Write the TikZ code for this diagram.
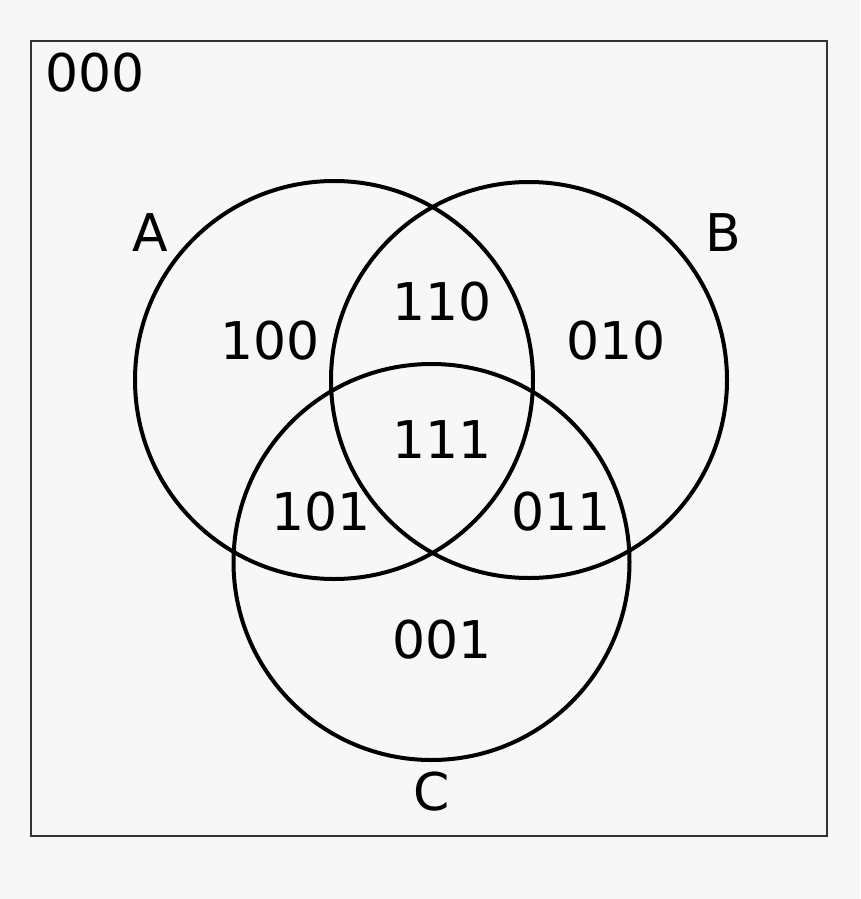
\documentclass[tikz,border=0pt]{standalone}
\usepackage{fontspec}
\setmainfont{DejaVu Sans}
\begin{document}
\begin{tikzpicture}[x=1pt,y=-1pt,
  lbl/.style={font=\fontsize{52}{56}\selectfont, inner sep=0pt},
  ring/.style={draw=black, line width=4pt}]
\fill[fill={rgb,255:red,247;green,247;blue,247}] (0,0) rectangle (860,899);
\useasboundingbox (0,0) rectangle (860,899);
\draw[draw={rgb,255:red,51;green,51;blue,51}, line width=2pt] (31,41) rectangle (827,836);
\node[ring, circle, minimum size=398pt, inner sep=0pt] (cA) at (334,380) {};
\node[ring, circle, minimum size=396pt, inner sep=0pt] (cB) at (529,380) {};
\node[ring, circle, minimum size=396pt, inner sep=0pt] (cC) at (431.5,562) {};
\node[lbl] (n000) at (95,73) {000};
\node[lbl] (lA) at (150,233) {A};
\node[lbl] (lB) at (723,233) {B};
\node[lbl] (lC) at (432,792) {C};
\node[lbl] (n100) at (270,341) {100};
\node[lbl] (n110) at (442,302) {110};
\node[lbl] (n010) at (616,341) {010};
\node[lbl] (n111) at (442,440) {111};
\node[lbl] (n101) at (321,512) {101};
\node[lbl] (n011) at (561,512) {011};
\node[lbl] (n001) at (442,640) {001};
\end{tikzpicture}
\end{document}
